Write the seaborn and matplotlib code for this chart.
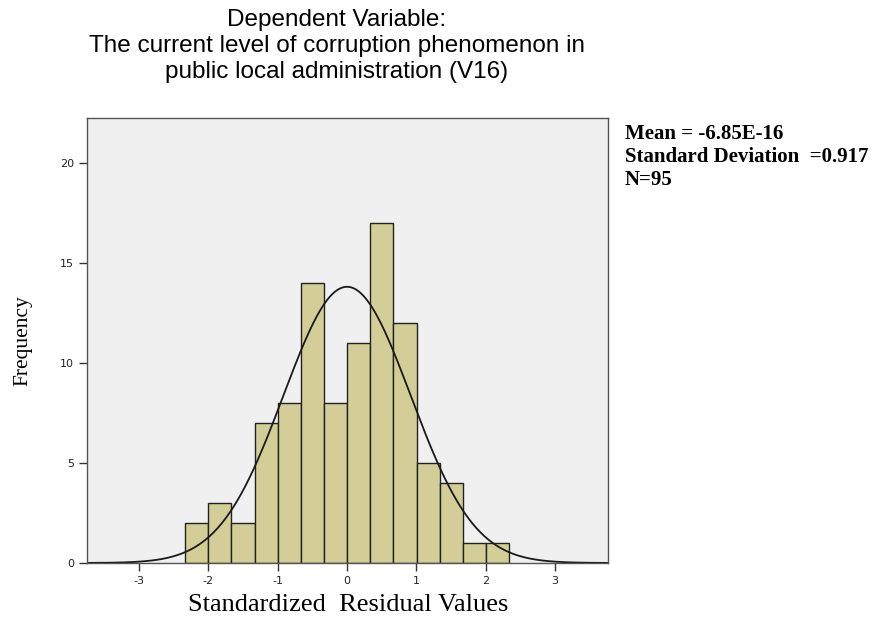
import numpy as np
import pandas as pd
import matplotlib
matplotlib.use("Agg")
import matplotlib.pyplot as plt
import seaborn as sns

# Histogram of standardized residuals
bin_edges = [-2.336, -2.002, -1.668, -1.334, -1.000, -0.666, -0.332,
             0.002, 0.336, 0.670, 1.004, 1.338, 1.672, 2.006, 2.340]
counts = [2, 3, 2, 7, 8, 14, 8, 11, 17, 12, 5, 4, 1, 1]
mean_val = -6.85e-16
sd_val = 0.917
n_obs = 95

bin_centers = [(a + b) / 2 for a, b in zip(bin_edges[:-1], bin_edges[1:])]
hist_df = pd.DataFrame({"resid": bin_centers, "freq": counts})

# normal curve scaled to the histogram
width = bin_edges[1] - bin_edges[0]
xs = np.linspace(-3.75, 3.77, 400)
ys = n_obs * width / (sd_val * np.sqrt(2 * np.pi)) * np.exp(-0.5 * ((xs - mean_val) / sd_val) ** 2)
curve_df = pd.DataFrame({"x": xs, "y": ys})

sns.set_style("ticks")
plt.rcParams["axes.unicode_minus"] = False
fig = plt.figure(figsize=(8.75, 6.2), dpi=100)
ax = fig.add_axes([0.0994, 0.092, 0.596, 0.718])
ax.set_facecolor("#f0f0f0")

sns.histplot(data=hist_df, x="resid", weights="freq", bins=bin_edges,
             color="#d3ce97", alpha=1, edgecolor="#222222", linewidth=1, ax=ax)
sns.lineplot(data=curve_df, x="x", y="y", color="#1a1a1a", linewidth=1.3, ax=ax)

ax.set_xlim(-3.75, 3.77)
ax.set_ylim(0, 22.25)
ax.set_xticks([-3, -2, -1, 0, 1, 2, 3])
ax.set_yticks([0, 5, 10, 15, 20])
ax.tick_params(axis="both", labelsize=8, length=6, width=1, color="#333333", labelcolor="#222222")
for s in ax.spines.values():
    s.set_color("#555555")
    s.set_linewidth(1)

ax.set_xlabel("Standardized  Residual Values", family="Liberation Serif", fontsize=19, color="black")
ax.xaxis.set_label_coords(0.5, -0.07)
ax.set_ylabel("Frequency", family="Liberation Serif", fontsize=15.5, color="black")
ax.yaxis.set_label_coords(-0.105, 0.5)

fig.text(0.385, 0.985, "Dependent Variable:\nThe current level of corruption phenomenon in\npublic local administration (V16)",
         ha="center", va="top", family="Liberation Sans", fontsize=17.5, linespacing=1.22, color="black")

fig.text(0.714, 0.80, "Mean = -6.85E-16\nStandard Deviation  =0.917\nN=95",
         ha="left", va="top", family="Liberation Serif", fontweight="bold", fontsize=15, linespacing=1.2, color="black")

fig.savefig("out.png", dpi=100)
